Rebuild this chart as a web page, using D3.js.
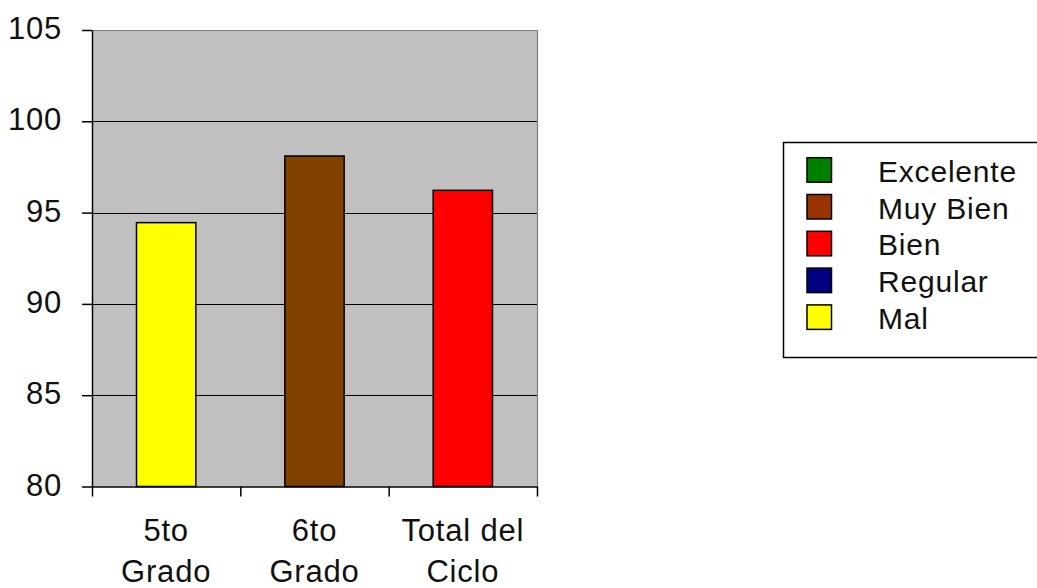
<!DOCTYPE html>
<html>
<head>
<meta charset="utf-8">
<script src="https://cdn.jsdelivr.net/npm/d3@7"></script>
<style>
  html, body { margin: 0; padding: 0; background: #fff; }
  svg { display: block; }
  text { font-family: "Liberation Sans", Arial, sans-serif; fill: #111; letter-spacing: 0.8px; }
</style>
</head>
<body>
<svg id="chart" width="1037" height="588"></svg>
<script>
const categories = [["5to", "Grado"], ["6to", "Grado"], ["Total del", "Ciclo"]];
const values = [94.45, 98.1, 96.22];
const barColors = ["#FFFF00", "#804000", "#FF0000"];
const yTicks = [80, 85, 90, 95, 100, 105];
const legendLabels = ["Excelente", "Muy Bien", "Bien", "Regular", "Mal"];
const legendColors = ["#008000", "#993300", "#FF0000", "#000080", "#FFFF00"];

(function () {
const svg = d3.select("#chart");
const pLeft = 92, pRight = 537, pTop = 30, pBottom = 486.5;

const keys = categories.map(c => c.join(" "));
const x = d3.scaleBand().domain(keys).range([pLeft, pRight]).paddingInner(0.6).paddingOuter(0.3);
const xb = d3.scaleLinear().domain([0, categories.length]).range([pLeft, pRight]);
const y = d3.scaleLinear().domain([80, 105]).range([pBottom, pTop]);

// plot background
svg.append("rect").attr("x", pLeft).attr("y", pTop)
  .attr("width", pRight - pLeft).attr("height", pBottom - pTop).attr("fill", "#C0C0C0");

// gridlines
svg.append("g").selectAll("line").data(yTicks.filter(v => v > 80 && v < 105)).join("line")
  .attr("x1", pLeft).attr("x2", pRight)
  .attr("y1", d => Math.round(y(d)) + 0.5).attr("y2", d => Math.round(y(d)) + 0.5)
  .attr("stroke", "#000").attr("stroke-width", 1.2);

// top and right border (gray)
svg.append("path")
  .attr("d", `M${pLeft},${pTop + 0.5}H${pRight + 0.5}V${pBottom}`)
  .attr("fill", "none").attr("stroke", "#808080").attr("stroke-width", 1.2);

// bars
svg.append("g").selectAll("rect").data(values).join("rect")
  .attr("x", (d, i) => x(keys[i]))
  .attr("y", d => y(d))
  .attr("width", x.bandwidth())
  .attr("height", d => y(80) - y(d))
  .attr("fill", (d, i) => barColors[i])
  .attr("stroke", "#000").attr("stroke-width", 1.5);

// y axis
const yAxis = d3.axisLeft(y).tickValues(yTicks).tickSize(10).tickSizeOuter(0).tickPadding(20);
const gy = svg.append("g").attr("transform", `translate(${pLeft},0)`).call(yAxis);
gy.select(".domain").attr("stroke", "#000").attr("stroke-width", 1.5);
gy.selectAll(".tick line").attr("stroke", "#000").attr("stroke-width", 1.5);
gy.selectAll(".tick text").style("font-size", "31px").style("font-family", "'Liberation Sans', Arial, sans-serif").attr("fill", "#111").attr("dy", "0.28em");

// x axis
const xAxis = d3.axisBottom(xb).tickValues(d3.range(categories.length + 1)).tickSize(10).tickSizeOuter(0).tickFormat("");
const gx = svg.append("g").attr("transform", `translate(0,${pBottom})`).call(xAxis);
gx.select(".domain").attr("stroke", "#000").attr("stroke-width", 1.5);
gx.selectAll(".tick line").attr("stroke", "#000").attr("stroke-width", 1.5);

// x labels
const xl = svg.append("g").selectAll("text").data(categories).join("text")
  .attr("x", (d, i) => x(keys[i]) + x.bandwidth() / 2)
  .attr("y", 541)
  .attr("text-anchor", "middle")
  .style("font-size", "31px");
xl.selectAll("tspan").data(d => d).join("tspan")
  .attr("x", function () { return d3.select(this.parentNode).attr("x"); })
  .attr("dy", (d, i) => i === 0 ? 0 : 41)
  .text(d => d);

// legend
const lg = svg.append("g");
lg.append("rect").attr("x", 783.5).attr("y", 142.5).attr("width", 280).attr("height", 215)
  .attr("fill", "#fff").attr("stroke", "#000").attr("stroke-width", 1.5);
const rows = lg.selectAll("g.row").data(legendLabels).join("g").attr("class", "row")
  .attr("transform", (d, i) => `translate(0,${157.7 + i * 36.8})`);
rows.append("rect").attr("x", 807).attr("y", 0).attr("width", 24.5).attr("height", 24.5)
  .attr("fill", (d, i) => legendColors[i]).attr("stroke", "#000").attr("stroke-width", 1.5);
rows.append("text").attr("x", 878).attr("y", 24).style("font-size", "30px").text(d => d);
})();
</script>
</body>
</html>
